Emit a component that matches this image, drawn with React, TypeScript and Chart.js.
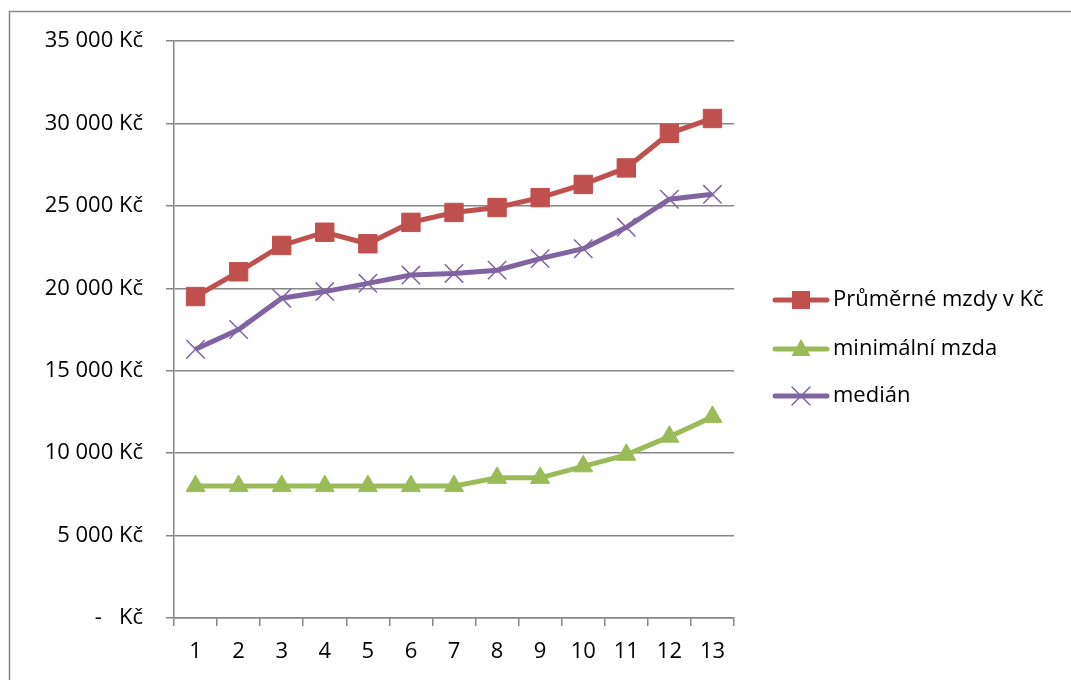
import React, { useEffect, useRef } from "react";
import { Chart, registerables } from "chart.js";

Chart.register(...registerables);

const categories = ["1", "2", "3", "4", "5", "6", "7", "8", "9", "10", "11", "12", "13"];
const avgWage = [19500, 21000, 22600, 23400, 22700, 24000, 24600, 24900, 25500, 26300, 27300, 29400, 30300];
const minWage = [8000, 8000, 8000, 8000, 8000, 8000, 8000, 8500, 8500, 9200, 9900, 11000, 12200];
const median = [16300, 17500, 19400, 19800, 20300, 20800, 20900, 21100, 21800, 22400, 23700, 25400, 25700];
const seriesNames = ["Průměrné mzdy v Kč", "minimální mzda", "medián"];

const RED = "#C0504D";
const GREEN = "#9BBB59";
const PURPLE = "#8064A2";
const GRID = "#868686";
const FONT = "'Open Sans', sans-serif";

function fmt(v: number): string {
  if (v === 0) return "-   Kč";
  const s = String(Math.round(v));
  return s.replace(/\B(?=(\d{3})+(?!\d))/g, " ") + " Kč";
}

function drawMarker(ctx: CanvasRenderingContext2D, style: string, x: number, y: number, color: string) {
  ctx.save();
  ctx.fillStyle = color;
  ctx.strokeStyle = color;
  if (style === "rect") {
    const s = 9;
    ctx.fillRect(x - s, y - s, 2 * s, 2 * s);
  } else if (style === "triangle") {
    ctx.beginPath();
    ctx.moveTo(x, y - 10);
    ctx.lineTo(x + 9.5, y + 7);
    ctx.lineTo(x - 9.5, y + 7);
    ctx.closePath();
    ctx.fill();
  } else {
    ctx.lineWidth = 1.5;
    const s = 9;
    ctx.beginPath();
    ctx.moveTo(x - s, y - s);
    ctx.lineTo(x + s, y + s);
    ctx.moveTo(x - s, y + s);
    ctx.lineTo(x + s, y - s);
    ctx.stroke();
  }
  ctx.restore();
}

const customLegend = {
  id: "customLegend",
  afterDraw(chart: any) {
    const ctx: CanvasRenderingContext2D = chart.ctx;
    const rows = [300, 349, 396];
    const styles = ["rect", "triangle", "crossRot"];
    const colors = [RED, GREEN, PURPLE];
    ctx.save();
    chart.data.datasets.forEach((ds: any, i: number) => {
      const y = rows[i];
      ctx.strokeStyle = colors[i];
      ctx.lineWidth = 5;
      ctx.lineCap = "round";
      ctx.beginPath();
      ctx.moveTo(775, y);
      ctx.lineTo(827, y);
      ctx.stroke();
      drawMarker(ctx, styles[i], 801, y, colors[i]);
      ctx.fillStyle = "#000";
      ctx.font = `22px ${FONT}`;
      ctx.textBaseline = "middle";
      ctx.textAlign = "left";
      ctx.fillText(ds.label, 833, y);
    });
    ctx.restore();
  },
};

const outerBorder = {
  id: "outerBorder",
  beforeDraw(chart: any) {
    const ctx: CanvasRenderingContext2D = chart.ctx;
    ctx.save();
    ctx.fillStyle = "#fff";
    ctx.fillRect(0, 0, chart.width, chart.height);
    ctx.strokeStyle = GRID;
    ctx.lineWidth = 1.5;
    ctx.strokeRect(9.5, 11.5, chart.width + 20, chart.height + 20);
    ctx.restore();
  },
};

export default function App() {
  const ref = useRef<HTMLCanvasElement | null>(null);
  useEffect(() => {
    document.body.style.margin = "0";
    if (!ref.current) return;
    const chart = new Chart(ref.current, {
      type: "line",
      data: {
        labels: categories,
        datasets: [
          {
            label: seriesNames[0],
            data: avgWage,
            borderColor: RED,
            backgroundColor: RED,
            borderWidth: 5,
            pointStyle: "rect",
            pointRadius: 13,
            pointBorderWidth: 1,
            pointBackgroundColor: RED,
            pointBorderColor: RED,
          },
          {
            label: seriesNames[1],
            data: minWage,
            borderColor: GREEN,
            backgroundColor: GREEN,
            borderWidth: 5,
            pointStyle: "triangle",
            pointRadius: 11,
            pointBorderWidth: 1,
            pointBackgroundColor: GREEN,
            pointBorderColor: GREEN,
          },
          {
            label: seriesNames[2],
            data: median,
            borderColor: PURPLE,
            backgroundColor: PURPLE,
            borderWidth: 5,
            pointStyle: "crossRot",
            pointRadius: 13,
            pointBorderWidth: 1.5,
            pointBackgroundColor: PURPLE,
            pointBorderColor: PURPLE,
          },
        ],
      },
      options: {
        animation: false,
        responsive: false,
        layout: { padding: { top: 41, right: 337, left: 0, bottom: 0 } },
        plugins: {
          legend: { display: false },
          tooltip: { enabled: false },
        },
        scales: {
          x: {
            type: "category",
            offset: true,
            grid: {
              offset: true,
              drawOnChartArea: false,
              drawTicks: true,
              tickLength: 8,
              color: GRID,
              lineWidth: 1.5,
            },
            border: { color: GRID, width: 1.5 },
            ticks: {
              color: "#000",
              font: { family: FONT, size: 22 },
              padding: 13,
              maxRotation: 0,
              autoSkip: false,
            },
            afterFit(scale: any) {
              scale.height = 62;
            },
          },
          y: {
            min: 0,
            max: 35000,
            grid: {
              color: GRID,
              lineWidth: 1.5,
              drawTicks: true,
              tickLength: 8,
            },
            border: { color: GRID, width: 1.5 },
            ticks: {
              stepSize: 5000,
              color: "#000",
              font: { family: FONT, size: 22 },
              padding: 23,
              callback: (v: any) => fmt(Number(v)),
            },
            afterFit(scale: any) {
              scale.width = 174;
            },
          },
        },
      },
      plugins: [outerBorder, customLegend],
    });
    return () => chart.destroy();
  }, []);
  return (
    <div style={{ width: 1071, height: 680 }}>
      <canvas ref={ref} width={1071} height={680} style={{ display: "block", width: 1071, height: 680 }} />
    </div>
  );
}
